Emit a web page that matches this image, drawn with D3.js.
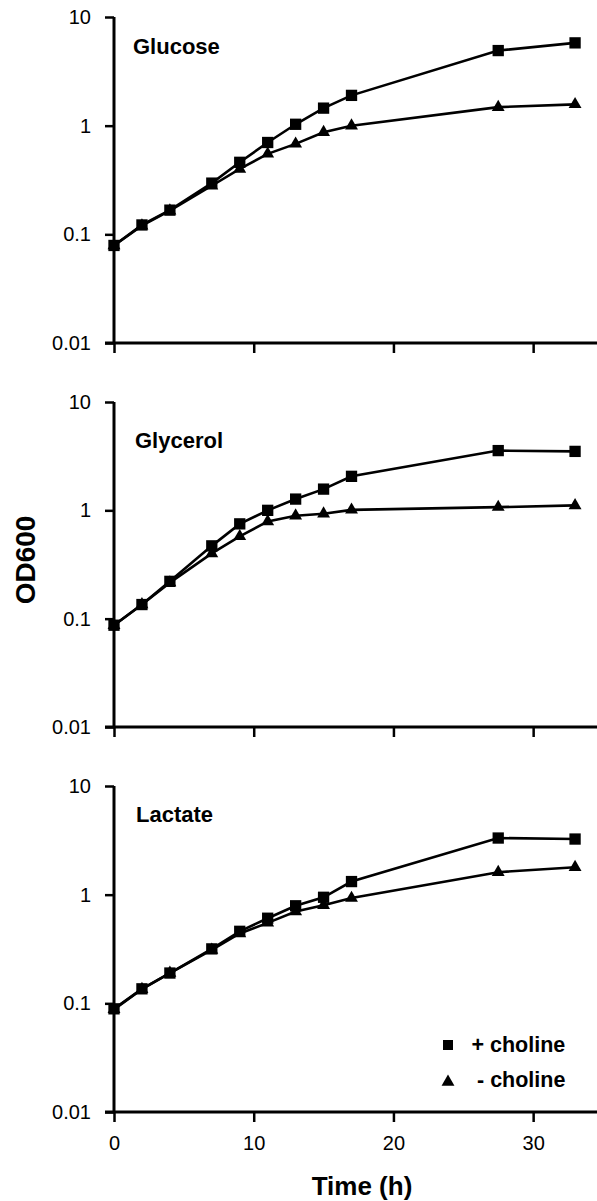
<!DOCTYPE html>
<html>
<head>
<meta charset="utf-8">
<script src="https://cdn.jsdelivr.net/npm/d3@7/dist/d3.min.js"></script>
<style>
  html, body { margin: 0; padding: 0; background: #fff; }
  svg { display: block; }
  text { font-family: Arial, "Liberation Sans", sans-serif; fill: #000; }
</style>
</head>
<body>
<svg id="chart" width="597" height="1201"></svg>
<script>
const times = [0, 2, 4, 7, 9, 11, 13, 15, 17, 27.5, 33];
const panelNames = ["Glucose", "Glycerol", "Lactate"];
const glucosePlus  = [0.079, 0.122, 0.167, 0.296, 0.46, 0.70, 1.03, 1.45, 1.90, 4.91, 5.78];
const glucoseMinus = [0.079, 0.120, 0.165, 0.280, 0.40, 0.55, 0.68, 0.87, 1.00, 1.48, 1.57];
const glycerolPlus  = [0.087, 0.135, 0.221, 0.47, 0.75, 1.00, 1.27, 1.57, 2.06, 3.56, 3.50];
const glycerolMinus = [0.087, 0.135, 0.215, 0.40, 0.575, 0.79, 0.89, 0.93, 1.01, 1.07, 1.11];
const lactatePlus  = [0.089, 0.136, 0.190, 0.317, 0.46, 0.607, 0.79, 0.946, 1.32, 3.32, 3.25];
const lactateMinus = [0.088, 0.135, 0.190, 0.310, 0.44, 0.55, 0.70, 0.80, 0.93, 1.61, 1.79];
const yTickValues = [0.01, 0.1, 1, 10];
const yTickLabels = ["0.01", "0.1", "1", "10"];
const xTickValues = [0, 10, 20, 30];
const legendLabels = ["+ choline", "- choline"];
const xLabel = "Time (h)";
const yLabel = "OD600";

const plusSeries = [glucosePlus, glycerolPlus, lactatePlus];
const minusSeries = [glucoseMinus, glycerolMinus, lactateMinus];

const svg = d3.select("#chart");
const FONT = 'Arial, "Liberation Sans", sans-serif';

const x = d3.scaleLinear().domain([0, 34.57]).range([114, 597]);
const panelTops = [17, 402, 786];
const panelBottoms = [343, 727, 1112];
const titleY = [54, 448, 822];
const titleX = [133, 135, 136];

const squareSym = d3.symbol().type(d3.symbolSquare).size(128);
const triSym = d3.symbol().type(d3.symbolTriangle).size(72);

panelNames.forEach((name, i) => {
  const y = d3.scaleLog().domain([0.01, 10]).range([panelBottoms[i], panelTops[i]]);
  const g = svg.append("g");

  const yAxis = d3.axisLeft(y).tickValues(yTickValues)
    .tickFormat((d, k) => yTickLabels[k]).tickSize(9).tickSizeOuter(0).tickPadding(14);
  const ya = g.append("g").attr("transform", `translate(${x(0)},0)`).call(yAxis);
  ya.select(".domain").attr("stroke", "#000").attr("stroke-width", 3)
    .attr("d", `M0,${panelTops[i]}V${panelBottoms[i]}`);
  ya.selectAll(".tick line").attr("stroke", "#000").attr("stroke-width", 2.5);
  ya.selectAll(".tick text").attr("font-family", FONT).attr("font-size", 20).attr("fill", "#000");

  const xAxis = d3.axisBottom(x).tickValues(xTickValues)
    .tickSize(10).tickSizeOuter(0).tickPadding(14)
    .tickFormat(i === 2 ? d3.format("d") : () => "");
  const xa = g.append("g").attr("transform", `translate(0,${panelBottoms[i]})`).call(xAxis);
  xa.select(".domain").attr("stroke", "#000").attr("stroke-width", 3)
    .attr("d", `M${x(0) - 9},0H597`);
  xa.selectAll(".tick line").attr("stroke", "#000").attr("stroke-width", 2.5);
  xa.selectAll(".tick text").attr("font-family", FONT).attr("font-size", 20).attr("fill", "#000");

  g.append("text").attr("x", titleX[i]).attr("y", titleY[i])
    .attr("font-size", 22).attr("font-weight", "bold").text(name);

  const line = d3.line().x((d, k) => x(times[k])).y(d => y(d));

  g.append("path").datum(minusSeries[i]).attr("d", line)
    .attr("fill", "none").attr("stroke", "#000").attr("stroke-width", 2.6);
  g.selectAll(".tri").data(minusSeries[i]).enter().append("path")
    .attr("d", triSym)
    .attr("transform", (d, k) => `translate(${x(times[k])},${y(d)})`)
    .attr("fill", "#000");

  g.append("path").datum(plusSeries[i]).attr("d", line)
    .attr("fill", "none").attr("stroke", "#000").attr("stroke-width", 2.6);
  g.selectAll(".sq").data(plusSeries[i]).enter().append("path")
    .attr("d", squareSym)
    .attr("transform", (d, k) => `translate(${x(times[k])},${y(d)})`)
    .attr("fill", "#000");
});

const lg = svg.append("g");
lg.append("path").attr("d", d3.symbol().type(d3.symbolSquare).size(100))
  .attr("transform", "translate(448,1045)");
lg.append("text").attr("x", 471.5).attr("y", 1052).attr("font-size", 21.5)
  .attr("font-weight", "bold").text(legendLabels[0]);
lg.append("path").attr("d", d3.symbol().type(d3.symbolTriangle).size(72))
  .attr("transform", "translate(448,1082)");
lg.append("text").attr("x", 477).attr("y", 1087).attr("font-size", 21.5)
  .attr("font-weight", "bold").text(legendLabels[1]);

svg.append("text").attr("x", 362).attr("y", 1195).attr("text-anchor", "middle")
  .attr("font-size", 26).attr("font-weight", "bold").text(xLabel);
svg.append("text").attr("transform", "translate(35,560) rotate(-90)")
  .attr("text-anchor", "middle").attr("font-size", 28).attr("font-weight", "bold").text(yLabel);
</script>
</body>
</html>
